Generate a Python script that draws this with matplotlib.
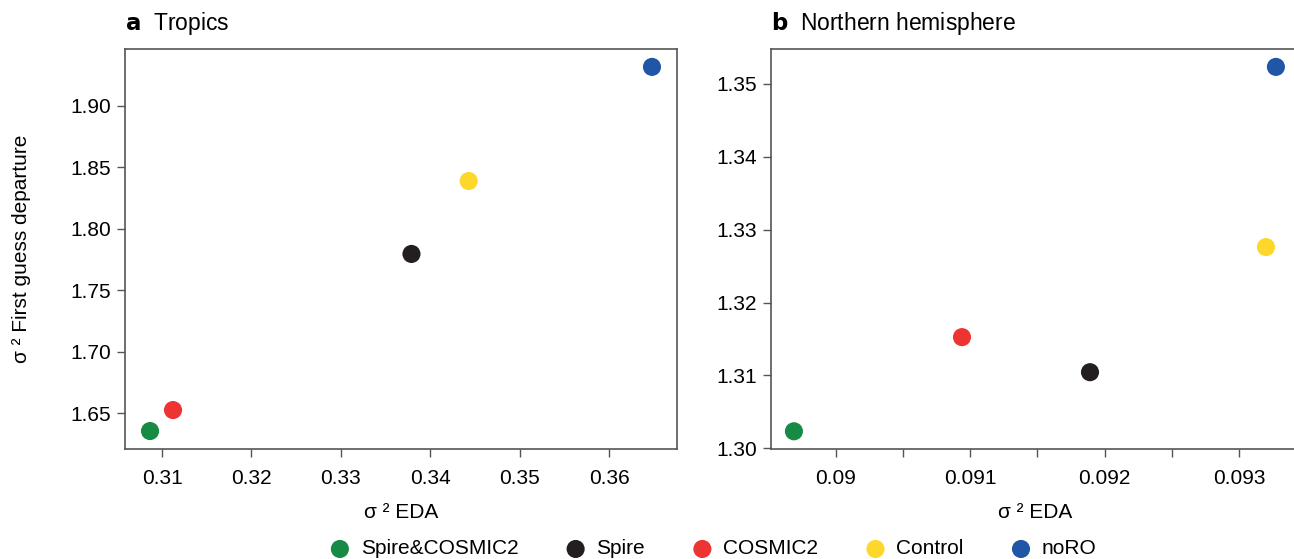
import numpy as np
import matplotlib
matplotlib.use('Agg')
import matplotlib.pyplot as plt
from matplotlib.ticker import FixedLocator, FixedFormatter

plt.rcParams['font.family'] = ['Liberation Sans', 'DejaVu Sans']
plt.rcParams['font.size'] = 15

experiments = ['Spire&COSMIC2', 'Spire', 'COSMIC2', 'Control', 'noRO']
colors = ['#178a45', '#231f20', '#ee3333', '#fdd72a', '#1f56a5']

# tropics
eda_trop = [0.30866, 0.33790, 0.31123, 0.34430, 0.36480]
fg_trop = [1.6353, 1.7795, 1.6524, 1.8389, 1.9318]

# northern hemisphere
eda_nh = [0.089687, 0.091891, 0.090938, 0.093201, 0.093275]
fg_nh = [1.30233, 1.31044, 1.31525, 1.32761, 1.35234]

trop_xticks = [0.31, 0.32, 0.33, 0.34, 0.35, 0.36]
trop_yticks = [1.65, 1.70, 1.75, 1.80, 1.85, 1.90]
nh_xticks = [0.0895, 0.09, 0.0905, 0.091, 0.0915, 0.092, 0.0925, 0.093]
nh_xlabels = ['', '0.09', '', '0.091', '', '0.092', '', '0.093']
nh_yticks = [1.30, 1.31, 1.32, 1.33, 1.34, 1.35]

spine_col = '#555555'

fig = plt.figure(figsize=(12.94, 5.59), dpi=100)
ax1 = fig.add_axes([0.0966, 0.1968, 0.4266, 0.7156])
ax2 = fig.add_axes([0.5958, 0.1968, 0.4088, 0.7156])


def style(ax):
    for s in ax.spines.values():
        s.set_color(spine_col)
        s.set_linewidth(1.2)
    ax.tick_params(axis='x', direction='out', length=5.5, width=1.0,
                   color=spine_col, labelsize=15, pad=9)
    ax.tick_params(axis='y', direction='out', length=6, width=1.0,
                   color=spine_col, labelsize=15, pad=4)


for i in range(len(experiments)):
    ax1.scatter(eda_trop[i], fg_trop[i], s=170, color=colors[i],
                edgecolors='none', zorder=3, label=experiments[i])
    ax2.scatter(eda_nh[i], fg_nh[i], s=170, color=colors[i],
                edgecolors='none', zorder=3)

ax1.set_xlim(0.30586, 0.3676)
ax1.set_ylim(1.6207, 1.9464)
ax1.set_xticks(trop_xticks)
ax1.set_xticklabels(['%.2f' % v for v in trop_xticks])
ax1.set_yticks(trop_yticks)
ax1.set_yticklabels(['%.2f' % v for v in trop_yticks])
style(ax1)
ax1.set_xlabel('σ ² EDA', fontsize=15, labelpad=11)
ax1.set_ylabel('σ ² First guess departure', fontsize=15, labelpad=28)
ax1.set_title(r'$\bf{a}$  Tropics', loc='left', fontsize=16.5, pad=14)

ax2.set_xlim(0.089516, 0.093454)
ax2.set_ylim(1.2999, 1.3548)
ax2.xaxis.set_major_locator(FixedLocator(nh_xticks))
ax2.xaxis.set_major_formatter(FixedFormatter(nh_xlabels))
ax2.set_yticks(nh_yticks)
ax2.set_yticklabels(['%.2f' % v for v in nh_yticks])
style(ax2)
ax2.set_xlabel('σ ² EDA', fontsize=15, labelpad=11)
ax2.set_title(r'$\bf{b}$  Northern hemisphere', loc='left', fontsize=16.5, pad=14)

handles, labels = ax1.get_legend_handles_labels()
fig.legend(handles, labels, loc='center', bbox_to_anchor=(0.547, 0.018),
           ncol=5, frameon=False, fontsize=15, handletextpad=0.0,
           columnspacing=1.75, markerscale=1.0)

plt.savefig('out.png', dpi=100)
